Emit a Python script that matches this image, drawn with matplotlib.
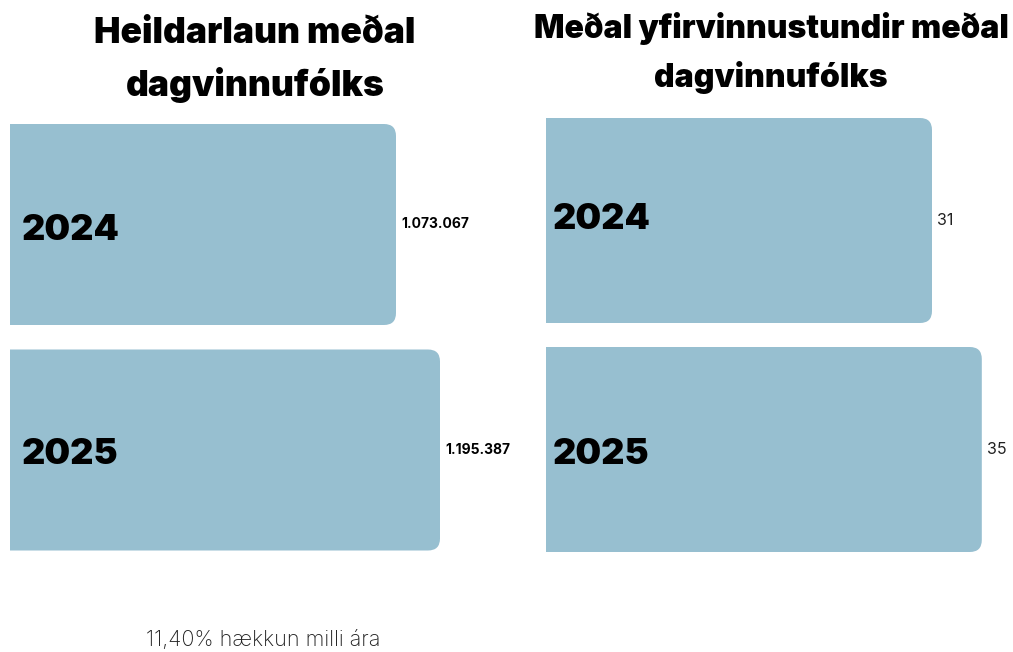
import matplotlib.pyplot as plt
from matplotlib.patches import FancyBboxPatch

years = ["2024", "2025"]
laun = [1073067, 1195387]
laun_labels = ["1.073.067", "1.195.387"]
yfirvinna = [31, 35]
yfirvinna_labels = ["31", "35"]
title_left = "Heildarlaun meðal\ndagvinnufólks"
title_right = "Meðal yfirvinnustundir meðal\ndagvinnufólks"
note = "11,40% hækkun milli ára"

W, H = 1013, 652
bar_color = "#97bfd0"
heavy = "Inter"

fig = plt.figure(figsize=(W / 100, H / 100), dpi=100)


def px_axes(x0, y0, x1, y1):
    # pixel box (top-left origin) -> axes
    return fig.add_axes([x0 / W, 1 - y1 / H, (x1 - x0) / W, (y1 - y0) / H])


def draw_panel(ax, values, labels, xmax, bar_h, label_kw, year_x_off, year_dy):
    ax.set_xlim(0, xmax)
    ax.set_ylim(1.5, -0.5)
    ax.axis("off")
    bbox = ax.get_window_extent()
    xu = xmax / bbox.width
    yu = 2.0 / bbox.height
    r = 12 * xu
    for i, v in enumerate(values):
        p = FancyBboxPatch((-3 * r, i - bar_h / 2), v + 3 * r, bar_h,
                           boxstyle=f"round,pad=0,rounding_size={r}",
                           mutation_aspect=yu / xu,
                           fc=bar_color, ec="none")
        ax.add_patch(p)
        ax.text(v + 5 * xu, i, labels[i], va="center", ha="left",
                clip_on=False, **label_kw)
        ax.text(year_x_off * xu, i + year_dy[i], years[i], va="center", ha="left",
                fontsize=26, fontweight="black", family=heavy)


# bars centred at 224.5 / 450 px, 225.5 px apart
ax1 = px_axes(10, 111.75, 530, 562.75)
draw_panel(ax1, laun, laun_labels, laun[0] / 386 * 520, 201 / 225.5,
           dict(fontsize=10, fontweight="bold", family=heavy, color="black"),
           12, [0.025, 0.02])

# bars centred at 220.5 / 449.5 px, 229 px apart
ax2 = px_axes(546, 106, 1013, 564)
draw_panel(ax2, yfirvinna, yfirvinna_labels, yfirvinna[0] / 386 * 467, 205 / 229,
           dict(fontsize=11.5, family=heavy, color="#222222"), 7, [-0.005, 0.02])

fig.text(255 / W, 1 - 60 / H, title_left, ha="center", va="center",
         fontsize=25.5, fontweight="black", family=heavy, linespacing=1.6)
fig.text(771 / W, 1 - 53 / H, title_right, ha="center", va="center",
         fontsize=23, fontweight="black", family=heavy, linespacing=1.6)
fig.text(263 / W, 1 - 640 / H, note, ha="center", va="center",
         fontsize=15.5, fontweight="light", family=heavy, color="#222222")

fig.savefig("out.png", dpi=100)
